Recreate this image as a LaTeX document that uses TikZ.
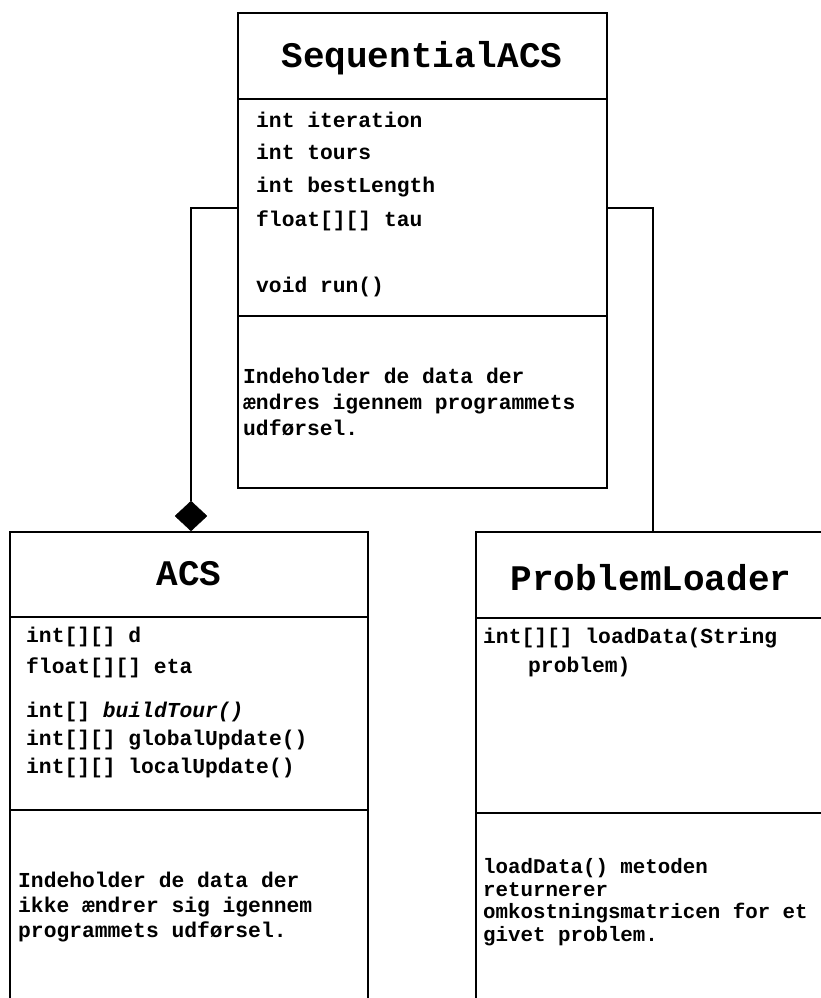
\documentclass[tikz,border=0pt]{standalone}
\usepackage{fontspec}
\setmonofont{Liberation Mono}
\usetikzlibrary{shapes.geometric}
\tikzset{
  box/.style={draw, line width=1.3pt, inner sep=0pt, outer sep=0pt, anchor=north west},
  rule/.style={line width=1.3pt},
  link/.style={line width=1.3pt},
  title/.style={font=\ttfamily\bfseries\fontsize{36}{36}\selectfont, anchor=base, inner sep=0pt},
  member/.style={font=\ttfamily\bfseries\fontsize{21.3}{21.3}\selectfont, anchor=base west, inner sep=0pt},
  note/.style={font=\ttfamily\bfseries\fontsize{20.8}{20.8}\selectfont, anchor=base west, inner sep=0pt},
  agg/.style={diamond, fill=black, draw=black, inner sep=0pt, minimum width=32pt, minimum height=30pt},
}
\begin{document}
\begin{tikzpicture}[x=1pt, y=-1pt]
\useasboundingbox (0,0) rectangle (821,998);
\clip (0,0) rectangle (821,998);

% SequentialACS
\node[box, minimum width=369pt, minimum height=475pt] (seq) at (238,13) {};
\draw[rule] (seq.west |- 0,99) -- (seq.east |- 0,99);
\draw[rule] (seq.west |- 0,316) -- (seq.east |- 0,316);
\node[title] (seqname) at (422,67) {SequentialACS};
\node[member] (s1) at (256,127) {int iteration};
\node[member] (s2) at (256,159) {int tours};
\node[member] (s3) at (256,192) {int bestLength};
\node[member] (s4) at (256,226) {float[][] tau};
\node[member] (s5) at (256,292) {void run()};
\node[member] (sn1) at (243,383) {Indeholder de data der};
\node[member] (sn2) at (243,409) {ændres igennem programmets};
\node[member] (sn3) at (243,435) {udførsel.};

% ACS (open at the bottom)
\node[box, minimum width=358pt, minimum height=480pt] (acs) at (10,532) {};
\draw[rule] (acs.west |- 0,617) -- (acs.east |- 0,617);
\draw[rule] (acs.west |- 0,810) -- (acs.east |- 0,810);
\node[title] (acsname) at (189,585) {ACS};
\node[member] (a1) at (26,642) {int[][] d};
\node[member] (a2) at (26,673) {float[][] eta};
\node[member] (a3) at (26,717) {int[] \itshape buildTour()};
\node[member] (a4) at (26,745) {int[][] globalUpdate()};
\node[member] (a5) at (26,773) {int[][] localUpdate()};
\node[member] (an1) at (18,887) {Indeholder de data der};
\node[member] (an2) at (18,912) {ikke ændrer sig igennem};
\node[member] (an3) at (18,937) {programmets udførsel.};

% ProblemLoader (runs past the right and bottom edges)
\node[box, minimum width=380pt, minimum height=480pt] (loader) at (476,532) {};
\draw[rule] (loader.west |- 0,618) -- (loader.east |- 0,618);
\draw[rule] (loader.west |- 0,813) -- (loader.east |- 0,813);
\node[title] (loadername) at (651,590) {ProblemLoader};
\node[member] (p1) at (483,643) {int[][] loadData(String};
\node[member] (p2) at (528,672) {problem)};
\node[note] (pn1) at (483,873) {loadData() metoden};
\node[note] (pn2) at (483,896) {returnerer};
\node[note] (pn3) at (483,918) {omkostningsmatricen for et};
\node[note] (pn4) at (483,941) {givet problem.};

% Connectors
\node[agg] (dia) at (191,516) {};
\coordinate (loaderin) at (653,532);
\draw[link] (seq.west |- 0,208) -| (dia.north);
\draw[link] (seq.east |- 0,208) -| (loaderin);
\end{tikzpicture}
\end{document}
